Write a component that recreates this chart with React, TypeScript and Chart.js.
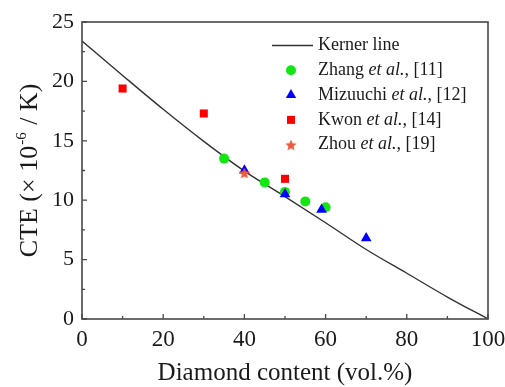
import React, { useEffect, useRef } from 'react';
import { Chart, registerables } from 'chart.js';

Chart.register(...registerables);

// ---- data ----
const kernerX = [0, 10, 20, 30, 40, 50, 60, 70, 80, 90, 100];
const kernerY = [23.4, 20.5, 17.65, 14.95, 12.45, 10.3, 8.1, 5.85, 3.85, 1.85, 0];

const zhangX = [35, 45, 50, 55, 60];
const zhangY = [13.5, 11.5, 10.7, 9.9, 9.4];

const mizuuchiX = [40, 50, 59, 70];
const mizuuchiY = [12.5, 10.5, 9.2, 6.8];

const kwonX = [10, 30, 50];
const kwonY = [19.4, 17.3, 11.8];

const zhouX = [40];
const zhouY = [12.3];

const xMajorTicks = [0, 20, 40, 60, 80, 100];
const xMinorTicks = [10, 30, 50, 70, 90];
const yMajorTicks = [0, 5, 10, 15, 20, 25];
const yMinorTicks = [2.5, 7.5, 12.5, 17.5, 22.5];

const legendNames = ['Kerner line', 'Zhang', 'Mizuuchi', 'Kwon', 'Zhou'];
const legendRefs = ['', ', [11]', ', [12]', ', [14]', ', [19]'];

const xTitle = 'Diamond content (vol.%)';

const SERIF = "'Liberation Serif', 'Times New Roman', serif";
const AXIS_COLOR = '#484848';
const TEXT_COLOR = '#1a1a1a';

const GREEN = '#14e614';
const BLUE = '#0000ff';
const RED = '#ff0000';
const STAR = '#ee5a40';
const LINE = '#333333';

function pts(xs: number[], ys: number[]) {
  return xs.map((x, i) => ({ x, y: ys[i] }));
}

function makeStar(size: number, color: string) {
  const c = document.createElement('canvas');
  c.width = size;
  c.height = size;
  const ctx = c.getContext('2d')!;
  const cx = size / 2;
  const cy = size / 2 + size * 0.06;
  const R = size / 2;
  const r = R * 0.45;
  ctx.beginPath();
  for (let i = 0; i < 10; i++) {
    const a = -Math.PI / 2 + (i * Math.PI) / 5;
    const rr = i % 2 === 0 ? R : r;
    ctx.lineTo(cx + rr * Math.cos(a), cy + rr * Math.sin(a));
  }
  ctx.closePath();
  ctx.fillStyle = color;
  ctx.fill();
  return c;
}

function drawMarker(ctx: CanvasRenderingContext2D, kind: string, x: number, y: number, color: string, star?: HTMLCanvasElement) {
  ctx.save();
  ctx.fillStyle = color;
  ctx.beginPath();
  if (kind === 'circle') {
    ctx.arc(x, y, 5, 0, Math.PI * 2);
    ctx.fill();
  } else if (kind === 'triangle') {
    const r = 6;
    ctx.moveTo(x, y - r);
    ctx.lineTo(x + r * Math.cos(Math.PI / 6), y + r / 2);
    ctx.lineTo(x - r * Math.cos(Math.PI / 6), y + r / 2);
    ctx.closePath();
    ctx.fill();
  } else if (kind === 'rect') {
    ctx.rect(x - 4, y - 4, 8, 8);
    ctx.fill();
  } else if (kind === 'star' && star) {
    ctx.drawImage(star, x - star.width / 2, y - star.height / 2);
  }
  ctx.restore();
}

export default function App() {
  const ref = useRef<HTMLCanvasElement | null>(null);

  useEffect(() => {
    if (!ref.current) return;
    const starImg = makeStar(12, STAR);
    const legendStar = makeStar(12, STAR);

    const decoPlugin = {
      id: 'deco',
      afterDraw(chart: any) {
        const ctx: CanvasRenderingContext2D = chart.ctx;
        const a = chart.chartArea;
        const xs = chart.scales.x;
        const ys = chart.scales.y;
        ctx.save();
        // frame
        ctx.strokeStyle = AXIS_COLOR;
        ctx.lineWidth = 1.6;
        ctx.strokeRect(a.left, a.top, a.right - a.left, a.bottom - a.top);
        // inward ticks
        ctx.lineWidth = 1.3;
        ctx.beginPath();
        xMajorTicks.forEach((v) => {
          const p = xs.getPixelForValue(v);
          ctx.moveTo(p, a.bottom);
          ctx.lineTo(p, a.bottom - 5);
        });
        xMinorTicks.forEach((v) => {
          const p = xs.getPixelForValue(v);
          ctx.moveTo(p, a.bottom);
          ctx.lineTo(p, a.bottom - 3);
        });
        yMajorTicks.forEach((v) => {
          const p = ys.getPixelForValue(v);
          ctx.moveTo(a.left, p);
          ctx.lineTo(a.left + 5, p);
        });
        yMinorTicks.forEach((v) => {
          const p = ys.getPixelForValue(v);
          ctx.moveTo(a.left, p);
          ctx.lineTo(a.left + 3, p);
        });
        ctx.stroke();

        // x title
        ctx.fillStyle = TEXT_COLOR;
        ctx.font = `25px ${SERIF}`;
        ctx.textAlign = 'center';
        ctx.textBaseline = 'alphabetic';
        ctx.fillText(xTitle, (a.left + a.right) / 2, a.bottom + 61);

        // y title with superscript
        ctx.save();
        const cy = (a.top + a.bottom) / 2;
        ctx.translate(37, cy);
        ctx.rotate(-Math.PI / 2);
        const big = `26px ${SERIF}`;
        const small = `15px ${SERIF}`;
        const p1 = 'CTE (\u00d7 10';
        const p2 = '-6';
        const p3 = ' / K)';
        ctx.font = big;
        const w1 = ctx.measureText(p1).width;
        const w3 = ctx.measureText(p3).width;
        ctx.font = small;
        const w2 = ctx.measureText(p2).width + 2;
        const total = w1 + w2 + w3;
        let x0 = -total / 2;
        ctx.textAlign = 'left';
        ctx.font = big;
        ctx.fillText(p1, x0, 0);
        x0 += w1 + 1;
        ctx.font = small;
        ctx.fillText(p2, x0, -11);
        x0 += w2 - 1;
        ctx.font = big;
        ctx.fillText(p3, x0, 0);
        ctx.restore();

        // legend
        const kinds = ['line', 'circle', 'triangle', 'rect', 'star'];
        const colors = [LINE, GREEN, BLUE, RED, STAR];
        const rowY0 = a.top + 23.5;
        const rowH = 24.8;
        const markX = 291;
        const textX = 318;
        ctx.textBaseline = 'middle';
        ctx.textAlign = 'left';
        kinds.forEach((k, i) => {
          const y = rowY0 + i * rowH;
          if (k === 'line') {
            ctx.strokeStyle = LINE;
            ctx.lineWidth = 1.4;
            ctx.beginPath();
            ctx.moveTo(272, y);
            ctx.lineTo(313, y);
            ctx.stroke();
          } else {
            drawMarker(ctx, k, markX, y, colors[i], legendStar);
          }
          ctx.fillStyle = TEXT_COLOR;
          let tx = textX;
          const reg = `18px ${SERIF}`;
          const ita = `italic 18px ${SERIF}`;
          if (i === 0) {
            ctx.font = reg;
            ctx.fillText(legendNames[i], tx, y);
          } else {
            ctx.font = reg;
            const s1 = legendNames[i] + ' ';
            ctx.fillText(s1, tx, y);
            tx += ctx.measureText(s1).width;
            ctx.font = ita;
            const s2 = 'et al.';
            ctx.fillText(s2, tx, y);
            tx += ctx.measureText(s2).width;
            ctx.font = reg;
            ctx.fillText(legendRefs[i], tx, y);
          }
        });
        ctx.restore();
      },
    };

    const chart = new Chart(ref.current, {
      type: 'scatter',
      data: {
        datasets: [
          {
            label: 'Zhou et al., [19]',
            data: pts(zhouX, zhouY),
            pointStyle: starImg as any,
            backgroundColor: STAR,
            order: 0,
          },
          {
            label: 'Kwon et al., [14]',
            data: pts(kwonX, kwonY),
            pointStyle: 'rect',
            pointRadius: 5.7,
            backgroundColor: RED,
            borderColor: RED,
            borderWidth: 0,
            order: 1,
          },
          {
            label: 'Mizuuchi et al., [12]',
            data: pts(mizuuchiX, mizuuchiY),
            pointStyle: 'triangle',
            pointRadius: 6.2,
            backgroundColor: BLUE,
            borderColor: BLUE,
            borderWidth: 0,
            order: 2,
          },
          {
            label: 'Zhang et al., [11]',
            data: pts(zhangX, zhangY),
            pointStyle: 'circle',
            pointRadius: 5,
            backgroundColor: GREEN,
            borderColor: GREEN,
            borderWidth: 0,
            order: 3,
          },
          {
            type: 'line',
            label: 'Kerner line',
            data: pts(kernerX, kernerY),
            borderColor: LINE,
            borderWidth: 1.4,
            pointRadius: 0,
            showLine: true,
            fill: false,
            cubicInterpolationMode: 'monotone',
            order: 4,
          } as any,
        ],
      },
      options: {
        animation: false,
        responsive: false,
        maintainAspectRatio: false,
        layout: { padding: { top: 22, right: 17, left: 0, bottom: 0 } },
        plugins: {
          legend: { display: false },
          tooltip: { enabled: false },
        },
        scales: {
          x: {
            type: 'linear',
            min: 0,
            max: 100,
            grid: { display: false, drawTicks: false },
            border: { display: false },
            ticks: {
              stepSize: 20,
              padding: 7,
              color: TEXT_COLOR,
              font: { family: SERIF, size: 23 },
              maxRotation: 0,
            },
            afterFit: (s: any) => {
              s.height = 68;
              s.paddingLeft = 0;
              s.paddingRight = 0;
            },
          },
          y: {
            type: 'linear',
            min: 0,
            max: 25,
            grid: { display: false, drawTicks: false },
            border: { display: false },
            ticks: {
              stepSize: 5,
              padding: 8,
              color: TEXT_COLOR,
              font: { family: SERIF, size: 22 },
            },
            afterFit: (s: any) => {
              s.width = 82;
              s.paddingTop = 0;
              s.paddingBottom = 0;
            },
          },
        },
      },
      plugins: [decoPlugin],
    });
    return () => chart.destroy();
  }, []);

  return (
    <div style={{ position: 'absolute', left: 0, top: 0, width: 505, height: 387, background: '#fff' }}>
      <canvas ref={ref} width={505} height={387} />
    </div>
  );
}
